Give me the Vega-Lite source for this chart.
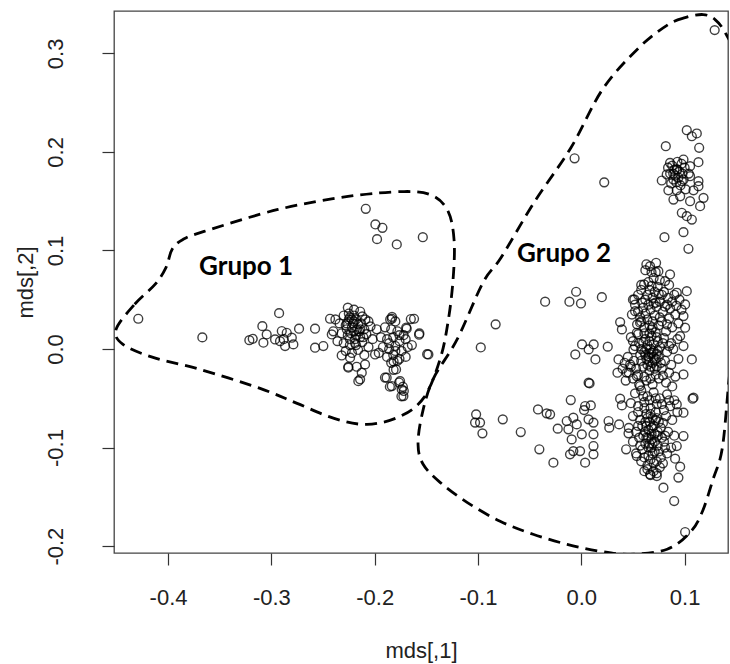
{
  "$schema": "https://vega.github.io/schema/vega-lite/v6.json",
  "width": 614,
  "height": 542,
  "autosize": "none",
  "padding": {"left": 114, "top": 11, "right": 2, "bottom": 111},
  "background": "white",
  "config": {
    "view": {"stroke": "#444", "strokeWidth": 1.3},
    "axis": {
      "domain": false, "grid": false, "tickColor": "#333", "tickSize": 12, "tickWidth": 1.2,
      "labelFont": "Liberation Sans", "labelFontSize": 22, "labelColor": "#222",
      "titleFont": "Liberation Sans", "titleFontSize": 22, "titleFontWeight": "normal", "titleColor": "#222"
    }
  },
  "datasets": {
    "pts": [
      {"x":-0.2086,"y":0.1423},{"x":-0.1993,"y":0.1264},{"x":-0.1925,"y":0.123},{"x":-0.1977,"y":0.1115},{"x":-0.1786,"y":0.1061},{"x":-0.1534,"y":0.1135},
      {"x":-0.4288,"y":0.0307},{"x":-0.3668,"y":0.0118},{"x":-0.2925,"y":0.0364},{"x":-0.3087,"y":0.0232},{"x":-0.3045,"y":0.0148},{"x":-0.3213,"y":0.009},{"x":-0.318,"y":0.0104},{"x":-0.3077,"y":0.0064},{"x":-0.2964,"y":0.0097},{"x":-0.2899,"y":0.0182},{"x":-0.2851,"y":0.0165},{"x":-0.2802,"y":0.0115},{"x":-0.2867,"y":0.003},{"x":-0.2787,"y":0.0047},{"x":-0.2732,"y":0.0206},{"x":-0.2916,"y":0.008},{"x":-0.288,"y":0.01},{"x":-0.2577,"y":0.0206},{"x":-0.2432,"y":0.0307},{"x":-0.2415,"y":0.0148},{"x":-0.2577,"y":0.0013},{"x":-0.2497,"y":0.003},{"x":-0.2319,"y":-0.0065},{"x":-0.2255,"y":-0.019},{"x":-0.2174,"y":-0.018},{"x":-0.2158,"y":-0.0326},
      {"x":-0.19,"y":-0.029},{"x":-0.1853,"y":-0.0383},{"x":-0.1764,"y":-0.034},{"x":-0.1727,"y":-0.0383},{"x":-0.1741,"y":-0.048},{"x":-0.1718,"y":-0.0426},{"x":-0.1817,"y":-0.0211},{"x":-0.1817,"y":-0.0126},{"x":-0.165,"y":0.0304},{"x":-0.1695,"y":0.0218},{"x":-0.157,"y":0.0145},{"x":-0.1492,"y":-0.0053},{"x":-0.1832,"y":0.0326},{"x":-0.1619,"y":0.0307},{"x":-0.169,"y":0.0206},{"x":-0.1567,"y":0.0158},{"x":-0.148,"y":-0.0055},{"x":-0.1834,"y":0.0307},{"x":-0.1884,"y":-0.0291},{"x":-0.1834,"y":-0.0376},{"x":-0.1754,"y":-0.0326},{"x":-0.1738,"y":-0.041},{"x":-0.1722,"y":-0.0478},{"x":-0.1793,"y":-0.0207},{"x":-0.2141,"y":-0.0308},{"x":-0.2125,"y":-0.024},{"x":-0.2255,"y":-0.018},{"x":-0.2093,"y":-0.0156},{"x":-0.2238,"y":-0.0088},{"x":-0.1996,"y":-0.0055},
      {"x":-0.226,"y":0.042},{"x":-0.22,"y":0.04},{"x":-0.214,"y":0.038},{"x":-0.23,"y":0.034},{"x":-0.224,"y":0.032},{"x":-0.218,"y":0.03},{"x":-0.212,"y":0.033},{"x":-0.206,"y":0.028},{"x":-0.234,"y":0.026},{"x":-0.228,"y":0.024},{"x":-0.222,"y":0.022},{"x":-0.216,"y":0.025},{"x":-0.21,"y":0.02},{"x":-0.204,"y":0.023},{"x":-0.232,"y":0.016},{"x":-0.226,"y":0.014},{"x":-0.22,"y":0.018},{"x":-0.214,"y":0.012},{"x":-0.208,"y":0.015},{"x":-0.236,"y":0.008},{"x":-0.23,"y":0.006},{"x":-0.224,"y":0.01},{"x":-0.218,"y":0.004},{"x":-0.212,"y":0.007},{"x":-0.206,"y":0.002},{"x":-0.228,"y":-0.002},{"x":-0.222,"y":-0.004},{"x":-0.216,"y":-0.001},{"x":-0.21,"y":-0.006},{"x":-0.22,"y":0.028},{"x":-0.217,"y":0.02},{"x":-0.223,"y":0.016},{"x":-0.213,"y":0.026},{"x":-0.219,"y":0.01},{"x":-0.225,"y":0.036},{"x":-0.198,"y":0.02},{"x":-0.202,"y":0.01},{"x":-0.24,"y":0.018},{"x":-0.238,"y":0.03},
      {"x":-0.221,"y":0.026},{"x":-0.215,"y":0.018},{"x":-0.227,"y":0.02},{"x":-0.211,"y":0.012},{"x":-0.219,"y":0.006},{"x":-0.225,"y":0.03},{"x":-0.209,"y":0.03},
      {"x":-0.222,"y":0.03},{"x":-0.218,"y":0.014},{"x":-0.224,"y":0.004},{"x":-0.214,"y":0.02},{"x":-0.22,"y":0.034},{"x":-0.227,"y":0.026},{"x":-0.186,"y":0.006},{"x":-0.18,"y":-0.002},{"x":-0.176,"y":0.014},
      {"x":-0.185,"y":0.03},{"x":-0.18,"y":0.028},{"x":-0.19,"y":0.022},{"x":-0.184,"y":0.02},{"x":-0.178,"y":0.018},{"x":-0.194,"y":0.012},{"x":-0.188,"y":0.01},{"x":-0.182,"y":0.012},{"x":-0.176,"y":0.008},{"x":-0.17,"y":0.01},{"x":-0.192,"y":0.002},{"x":-0.186,"y":0.0},{"x":-0.18,"y":0.003},{"x":-0.174,"y":-0.002},{"x":-0.168,"y":0.002},{"x":-0.188,"y":-0.008},{"x":-0.182,"y":-0.006},{"x":-0.176,"y":-0.01},{"x":-0.17,"y":-0.008},{"x":-0.184,"y":-0.014},{"x":-0.178,"y":-0.012},{"x":-0.196,"y":-0.004},{"x":-0.164,"y":0.004},{"x":-0.172,"y":0.014},
      {"x":-0.0973,"y":0.0016},{"x":-0.0829,"y":0.025},
      {"x":-0.1018,"y":-0.0663},{"x":-0.1028,"y":-0.0747},{"x":-0.098,"y":-0.0747},{"x":-0.0957,"y":-0.0856},{"x":-0.076,"y":-0.0714},{"x":-0.0586,"y":-0.0843},{"x":-0.0419,"y":-0.0613},{"x":-0.0335,"y":-0.0653},{"x":-0.0302,"y":-0.0663},{"x":-0.0102,"y":-0.0518},{"x":0.0037,"y":-0.0579},{"x":0.0092,"y":-0.0572},{"x":0.0027,"y":-0.062},{"x":-0.0406,"y":-0.1018},{"x":-0.027,"y":-0.1153},{"x":-0.0228,"y":-0.0808},{"x":-0.0141,"y":-0.0731},{"x":-0.0125,"y":-0.0815},{"x":-0.0077,"y":-0.0697},{"x":-0.0044,"y":-0.0765},{"x":-0.0093,"y":-0.0917},{"x":-0.0077,"y":-0.1036},{"x":-0.0109,"y":-0.1069},{"x":-0.0012,"y":-0.1036},{"x":0.0005,"y":-0.0866},{"x":0.0037,"y":-0.1153},{"x":0.007,"y":-0.0714},{"x":0.0118,"y":-0.0747},{"x":0.0118,"y":-0.0866},{"x":0.0118,"y":-0.0985},{"x":0.0118,"y":-0.1069},{"x":0.0264,"y":-0.0731},{"x":0.0271,"y":-0.0798},{"x":0.0366,"y":-0.0765},{"x":0.008,"y":-0.0349},{"x":0.0376,"y":-0.0504},{"x":0.0393,"y":-0.0572},{"x":0.0457,"y":-0.0856},{"x":0.0434,"y":-0.1018},{"x":0.0537,"y":-0.1086},{"x":0.0666,"y":-0.1272},{"x":0.0731,"y":-0.1289},{"x":0.0795,"y":-0.1407},{"x":0.0899,"y":-0.1543},{"x":0.094,"y":-0.1305},{"x":0.0957,"y":-0.1194},{"x":0.0908,"y":-0.1113},{"x":0.0989,"y":-0.0883},{"x":0.0989,"y":-0.0646},{"x":0.1077,"y":-0.0504},{"x":0.0924,"y":-0.0562},{"x":0.0924,"y":-0.0985},{"x":0.1005,"y":-0.1857},
      {"x":-0.035,"y":0.048},{"x":-0.0115,"y":0.048},{"x":-0.005,"y":0.0581},{"x":-0.0003,"y":0.0462},{"x":0.0199,"y":0.0526},{"x":0.0007,"y":0.0047},{"x":-0.0058,"y":-0.0055},{"x":0.0071,"y":-0.0004},{"x":0.012,"y":0.0047},{"x":0.0137,"y":-0.0106},{"x":0.0256,"y":0.0024},{"x":0.0071,"y":-0.0342},{"x":0.0376,"y":0.0273},{"x":0.0393,"y":0.0199},{"x":0.036,"y":-0.0106},{"x":0.035,"y":-0.024},{"x":0.107,"y":-0.0106},{"x":0.0989,"y":-0.0258},{"x":0.1086,"y":-0.0494},{"x":0.1005,"y":0.0452},{"x":0.1021,"y":0.0587},{"x":0.0924,"y":0.0571},{"x":0.0666,"y":0.0841},{"x":0.0724,"y":0.0875},{"x":0.0859,"y":0.0757},{"x":0.0746,"y":0.079},{"x":0.0608,"y":0.0655},{"x":0.0811,"y":0.0689},{"x":0.0514,"y":0.0503},{"x":0.0989,"y":0.0334},{"x":0.1005,"y":0.0216},{"x":0.0957,"y":0.0131},{"x":0.0989,"y":0.003},{"x":0.0521,"y":0.0384},{"x":0.0569,"y":0.0267},{"x":0.0537,"y":0.0165},{"x":0.0505,"y":-0.0004},{"x":0.0473,"y":-0.0156},{"x":0.044,"y":-0.024},{"x":0.0537,"y":-0.0275},{"x":0.0569,"y":-0.0376},
      {"x":0.1291,"y":0.3236},{"x":-0.0065,"y":0.1935},{"x":0.0222,"y":0.1691},
      {"x":0.1021,"y":0.222},{"x":0.1118,"y":0.2187},{"x":0.107,"y":0.2159},{"x":0.1141,"y":0.2042},{"x":0.0818,"y":0.2058},{"x":0.1134,"y":0.1896},{"x":0.0779,"y":0.171},{"x":0.0859,"y":0.1889},{"x":0.0924,"y":0.1822},{"x":0.0989,"y":0.1923},{"x":0.1053,"y":0.1855},{"x":0.0827,"y":0.1771},{"x":0.0892,"y":0.172},{"x":0.0973,"y":0.1703},{"x":0.1053,"y":0.1754},{"x":0.1134,"y":0.1703},{"x":0.1134,"y":0.1652},{"x":0.1183,"y":0.1534},{"x":0.115,"y":0.1449},{"x":0.0892,"y":0.1517},{"x":0.0957,"y":0.155},{"x":0.1053,"y":0.15},{"x":0.0973,"y":0.1382},{"x":0.1021,"y":0.1348},{"x":0.107,"y":0.1314},{"x":0.0805,"y":0.1135},{"x":0.0989,"y":0.1186},{"x":0.1037,"y":0.1017},{"x":0.0924,"y":0.161},{"x":0.0843,"y":0.161},{"x":0.1086,"y":0.161},
      {"x":0.087,"y":0.168},{"x":0.091,"y":0.176},{"x":0.095,"y":0.18},{"x":0.099,"y":0.172},{"x":0.088,"y":0.186},{"x":0.093,"y":0.19},{"x":0.1,"y":0.184},{"x":0.104,"y":0.178},{"x":0.086,"y":0.178},{"x":0.096,"y":0.166},{"x":0.101,"y":0.162},{"x":0.09,"y":0.182},{"x":0.097,"y":0.188},{"x":0.084,"y":0.184},{"x":0.092,"y":0.169},
      {"x":0.089,"y":0.178},{"x":0.094,"y":0.174},{"x":0.098,"y":0.178},{"x":0.093,"y":0.182},
      {"x":0.062,"y":0.08},{"x":0.07,"y":0.072},{"x":0.058,"y":0.065},{"x":0.066,"y":0.06},{"x":0.074,"y":0.063},{"x":0.08,"y":0.058},{"x":0.055,"y":0.055},{"x":0.062,"y":0.05},{"x":0.069,"y":0.052},{"x":0.076,"y":0.048},{"x":0.084,"y":0.052},{"x":0.09,"y":0.055},{"x":0.095,"y":0.05},{"x":0.052,"y":0.045},{"x":0.06,"y":0.042},{"x":0.067,"y":0.04},{"x":0.073,"y":0.043},{"x":0.079,"y":0.038},{"x":0.086,"y":0.041},{"x":0.092,"y":0.044},{"x":0.049,"y":0.035},{"x":0.057,"y":0.032},{"x":0.064,"y":0.03},{"x":0.071,"y":0.034},{"x":0.078,"y":0.028},{"x":0.085,"y":0.031},{"x":0.091,"y":0.035},{"x":0.097,"y":0.04},{"x":0.054,"y":0.025},{"x":0.061,"y":0.022},{"x":0.068,"y":0.02},{"x":0.075,"y":0.024},{"x":0.082,"y":0.018},{"x":0.088,"y":0.022},{"x":0.094,"y":0.026},{"x":0.058,"y":0.06},{"x":0.072,"y":0.078},{"x":0.065,"y":0.068},{"x":0.083,"y":0.045},{"x":0.05,"y":0.05},
      {"x":0.063,"y":0.086},{"x":0.068,"y":0.078},{"x":0.076,"y":0.07},{"x":0.085,"y":0.065},{"x":0.071,"y":0.058},{"x":0.078,"y":0.055},{"x":0.059,"y":0.047},{"x":0.065,"y":0.045},{"x":0.072,"y":0.047},{"x":0.081,"y":0.043},{"x":0.088,"y":0.048},{"x":0.055,"y":0.038},{"x":0.062,"y":0.036},{"x":0.069,"y":0.028},{"x":0.076,"y":0.032},{"x":0.083,"y":0.025},{"x":0.058,"y":0.028},{"x":0.066,"y":0.024},
      {"x":0.064,"y":0.055},{"x":0.07,"y":0.046},{"x":0.068,"y":0.064},{"x":0.075,"y":0.056},
      {"x":0.048,"y":0.012},{"x":0.055,"y":0.015},{"x":0.062,"y":0.01},{"x":0.068,"y":0.013},{"x":0.074,"y":0.008},{"x":0.08,"y":0.011},{"x":0.087,"y":0.006},{"x":0.093,"y":0.01},{"x":0.052,"y":0.003},{"x":0.058,"y":0.0},{"x":0.064,"y":0.004},{"x":0.07,"y":-0.002},{"x":0.076,"y":0.002},{"x":0.083,"y":-0.003},{"x":0.089,"y":0.0},{"x":0.045,"y":-0.008},{"x":0.051,"y":-0.012},{"x":0.057,"y":-0.006},{"x":0.063,"y":-0.01},{"x":0.069,"y":-0.014},{"x":0.075,"y":-0.008},{"x":0.081,"y":-0.012},{"x":0.087,"y":-0.016},{"x":0.094,"y":-0.01},{"x":0.04,"y":-0.02},{"x":0.046,"y":-0.024},{"x":0.053,"y":-0.02},{"x":0.06,"y":-0.018},{"x":0.066,"y":-0.022},{"x":0.072,"y":-0.026},{"x":0.078,"y":-0.02},{"x":0.085,"y":-0.024},{"x":0.091,"y":-0.028},{"x":0.043,"y":-0.032},{"x":0.05,"y":-0.03},{"x":0.056,"y":-0.036},{"x":0.063,"y":-0.032},{"x":0.069,"y":-0.036},{"x":0.075,"y":-0.03},{"x":0.082,"y":-0.034},{"x":0.088,"y":-0.038},{"x":0.066,"y":-0.005},{"x":0.072,"y":-0.01},{"x":0.064,"y":-0.016},{"x":0.07,"y":0.005},
      {"x":0.05,"y":0.008},{"x":0.056,"y":0.006},{"x":0.061,"y":-0.003},{"x":0.067,"y":0.0},{"x":0.073,"y":-0.005},{"x":0.079,"y":0.006},{"x":0.085,"y":0.003},{"x":0.042,"y":-0.014},{"x":0.048,"y":-0.018},{"x":0.055,"y":-0.026},{"x":0.061,"y":-0.028},{"x":0.067,"y":-0.03},{"x":0.073,"y":-0.018},{"x":0.079,"y":-0.027},{"x":0.058,"y":-0.012},{"x":0.065,"y":-0.008},{"x":0.071,"y":-0.02},{"x":0.077,"y":-0.014},{"x":0.06,"y":0.007},{"x":0.066,"y":0.016},{"x":0.072,"y":0.017},
      {"x":0.062,"y":-0.006},{"x":0.065,"y":-0.012},{"x":0.068,"y":-0.004},{"x":0.071,"y":-0.012},{"x":0.074,"y":-0.002},{"x":0.067,"y":-0.018},{"x":0.063,"y":0.0},{"x":0.07,"y":-0.008},{"x":0.066,"y":0.008},{"x":0.073,"y":0.012},{"x":0.061,"y":0.016},{"x":0.069,"y":0.022},
      {"x":0.052,"y":-0.045},{"x":0.058,"y":-0.042},{"x":0.064,"y":-0.048},{"x":0.07,"y":-0.044},{"x":0.076,"y":-0.05},{"x":0.083,"y":-0.046},{"x":0.09,"y":-0.052},{"x":0.048,"y":-0.055},{"x":0.055,"y":-0.058},{"x":0.061,"y":-0.054},{"x":0.067,"y":-0.06},{"x":0.073,"y":-0.056},{"x":0.08,"y":-0.062},{"x":0.086,"y":-0.058},{"x":0.093,"y":-0.064},{"x":0.05,"y":-0.068},{"x":0.057,"y":-0.072},{"x":0.063,"y":-0.066},{"x":0.069,"y":-0.07},{"x":0.075,"y":-0.074},{"x":0.082,"y":-0.068},{"x":0.088,"y":-0.072},{"x":0.046,"y":-0.08},{"x":0.053,"y":-0.084},{"x":0.059,"y":-0.078},{"x":0.065,"y":-0.082},{"x":0.071,"y":-0.086},{"x":0.077,"y":-0.08},{"x":0.084,"y":-0.084},{"x":0.09,"y":-0.088},{"x":0.05,"y":-0.094},{"x":0.056,"y":-0.09},{"x":0.062,"y":-0.096},{"x":0.068,"y":-0.092},{"x":0.074,"y":-0.098},{"x":0.08,"y":-0.094},{"x":0.087,"y":-0.1},{"x":0.053,"y":-0.106},{"x":0.059,"y":-0.102},{"x":0.065,"y":-0.108},{"x":0.071,"y":-0.104},{"x":0.077,"y":-0.11},{"x":0.083,"y":-0.106},{"x":0.058,"y":-0.114},{"x":0.064,"y":-0.118},{"x":0.07,"y":-0.116},{"x":0.076,"y":-0.12},{"x":0.061,"y":-0.124},{"x":0.067,"y":-0.128},{"x":0.073,"y":-0.126},{"x":0.066,"y":-0.074},{"x":0.072,"y":-0.064},{"x":0.06,"y":-0.088},{"x":0.078,"y":-0.09},{"x":0.068,"y":-0.1},
      {"x":0.06,"y":-0.048},{"x":0.066,"y":-0.052},{"x":0.072,"y":-0.05},{"x":0.078,"y":-0.056},{"x":0.085,"y":-0.052},{"x":0.055,"y":-0.064},{"x":0.061,"y":-0.06},{"x":0.067,"y":-0.066},{"x":0.073,"y":-0.07},{"x":0.079,"y":-0.075},{"x":0.055,"y":-0.078},{"x":0.062,"y":-0.074},{"x":0.068,"y":-0.08},{"x":0.074,"y":-0.084},{"x":0.081,"y":-0.088},{"x":0.057,"y":-0.098},{"x":0.063,"y":-0.09},{"x":0.069,"y":-0.096},{"x":0.075,"y":-0.104},{"x":0.081,"y":-0.1},{"x":0.061,"y":-0.11},{"x":0.067,"y":-0.112},{"x":0.073,"y":-0.114},{"x":0.079,"y":-0.116},{"x":0.064,"y":-0.122},{"x":0.07,"y":-0.124},
      {"x":0.062,"y":-0.084},{"x":0.065,"y":-0.09},{"x":0.068,"y":-0.086},{"x":0.071,"y":-0.094},{"x":0.074,"y":-0.088},{"x":0.066,"y":-0.096},{"x":0.063,"y":-0.078},{"x":0.07,"y":-0.078},{"x":0.072,"y":-0.072},{"x":0.064,"y":-0.07},{"x":0.069,"y":-0.106},{"x":0.065,"y":-0.1}
    ],
    "g1": [
      {"i":1,"x":-0.4503,"y":0.0199},{"i":2,"x":-0.4323,"y":0.0454},{"i":3,"x":-0.4126,"y":0.0655},{"i":4,"x":-0.4019,"y":0.0828},{"i":5,"x":-0.3961,"y":0.101},{"i":6,"x":-0.3855,"y":0.1112},{"i":7,"x":-0.3651,"y":0.1193},{"i":8,"x":-0.2935,"y":0.1416},{"i":9,"x":-0.2258,"y":0.1548},{"i":10,"x":-0.1715,"y":0.1598},{"i":11,"x":-0.1444,"y":0.1558},{"i":12,"x":-0.1289,"y":0.1396},{"i":13,"x":-0.1231,"y":0.1101},{"i":14,"x":-0.1241,"y":0.0706},{"i":15,"x":-0.1289,"y":0.028},{"i":16,"x":-0.1367,"y":-0.0105},{"i":17,"x":-0.1522,"y":-0.0491},{"i":18,"x":-0.1754,"y":-0.0684},{"i":19,"x":-0.2074,"y":-0.0765},{"i":20,"x":-0.2393,"y":-0.0704},{"i":21,"x":-0.2751,"y":-0.0552},{"i":22,"x":-0.3109,"y":-0.04},{"i":23,"x":-0.369,"y":-0.0207},{"i":24,"x":-0.4145,"y":-0.0085},{"i":25,"x":-0.4436,"y":0.0047}
    ],
    "g2": [
      {"i":1,"x":0.1179,"y":0.3394},{"i":2,"x":0.1005,"y":0.3363},{"i":3,"x":0.0841,"y":0.3292},{"i":4,"x":0.0569,"y":0.3069},{"i":5,"x":0.0211,"y":0.2643},{"i":6,"x":-0.0099,"y":0.2045},{"i":7,"x":-0.0457,"y":0.1487},{"i":8,"x":-0.0776,"y":0.0929},{"i":9,"x":-0.0951,"y":0.0675},{"i":10,"x":-0.1202,"y":0.0097},{"i":11,"x":-0.1435,"y":-0.0308},{"i":12,"x":-0.1541,"y":-0.0663},{"i":13,"x":-0.158,"y":-0.0968},{"i":14,"x":-0.1531,"y":-0.117},{"i":15,"x":-0.1367,"y":-0.1353},{"i":16,"x":-0.1106,"y":-0.1556},{"i":17,"x":-0.0786,"y":-0.1748},{"i":18,"x":-0.0467,"y":-0.188},{"i":19,"x":-0.0137,"y":-0.1982},{"i":20,"x":0.0182,"y":-0.2053},{"i":21,"x":0.0472,"y":-0.2083},{"i":22,"x":0.0831,"y":-0.2032},{"i":23,"x":0.1053,"y":-0.186},{"i":24,"x":0.1169,"y":-0.1657},{"i":25,"x":0.1275,"y":-0.1323},{"i":26,"x":0.1363,"y":-0.1018},{"i":27,"x":0.1421,"y":-0.041},{"i":28,"x":0.147,"y":0.0199},{"i":29,"x":0.1518,"y":0.1314},{"i":30,"x":0.1518,"y":0.2329},{"i":31,"x":0.147,"y":0.2988},{"i":32,"x":0.1392,"y":0.3211},{"i":33,"x":0.1295,"y":0.3343}
    ],
    "labels": [
      {"label":"Grupo 1","x":-0.37,"y":0.0746},
      {"label":"Grupo 2","x":-0.0622,"y":0.0888}
    ]
  },
  "encoding": {
    "x": {
      "field": "x", "type": "quantitative",
      "scale": {"domain": [-0.4523, 0.142], "nice": false, "zero": false},
      "axis": {
        "title": "mds[,1]", "values": [-0.4, -0.3, -0.2, -0.1, 0, 0.1],
        "labelExpr": "(datum.value < -0.0001 ? '-' : '') + format(abs(datum.value), '.1f')",
        "labelPadding": 22, "labelBaseline": "top",
        "titleX": 307, "titleY": 104, "titleBaseline": "alphabetic", "titleAlign": "center"
      }
    },
    "y": {
      "field": "y", "type": "quantitative",
      "scale": {"domain": [-0.207, 0.343], "nice": false, "zero": false},
      "axis": {
        "title": "mds[,2]", "values": [-0.2, -0.1, 0, 0.1, 0.2, 0.3],
        "labelExpr": "(datum.value < -0.0001 ? '-' : '') + format(abs(datum.value), '.1f')",
        "labelAngle": -90, "labelAlign": "center", "labelBaseline": "alphabetic", "labelPadding": 40,
        "titleAngle": -90, "titleX": -82, "titleY": 271, "titleBaseline": "alphabetic", "titleAlign": "center"
      }
    }
  },
  "layer": [
    {
      "data": {"name": "pts"},
      "mark": {"type": "point", "shape": "circle", "filled": false, "size": 78, "color": "#000", "strokeWidth": 1.4, "opacity": 0.75}
    },
    {
      "data": {"name": "g1"},
      "mark": {"type": "line", "interpolate": "cardinal-closed", "strokeDash": [12, 7], "strokeWidth": 2.8, "color": "#000", "clip": true},
      "encoding": {"order": {"field": "i", "type": "quantitative"}}
    },
    {
      "data": {"name": "g2"},
      "mark": {"type": "line", "interpolate": "cardinal-closed", "strokeDash": [12, 7], "strokeWidth": 2.8, "color": "#000", "clip": true},
      "encoding": {"order": {"field": "i", "type": "quantitative"}}
    },
    {
      "data": {"name": "labels"},
      "mark": {"type": "text", "align": "left", "baseline": "alphabetic", "font": "Lato", "fontWeight": "bold", "fontSize": 26, "color": "#000"},
      "encoding": {"text": {"field": "label", "type": "nominal"}}
    }
  ]
}
